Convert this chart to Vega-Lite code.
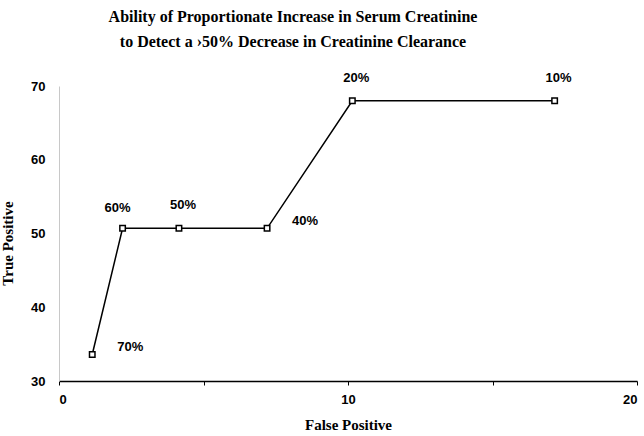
{
  "$schema": "https://vega.github.io/schema/vega-lite/v6.json",
  "width": 578,
  "height": 295,
  "autosize": {"type": "none"},
  "padding": {"left": 59, "top": 86, "right": 7, "bottom": 55},
  "background": "white",
  "title": {
    "text": ["Ability of  Proportionate Increase in Serum Creatinine", "to Detect a \u203a50% Decrease in Creatinine Clearance"],
    "anchor": "middle",
    "align": "center",
    "dx": -55,
    "offset": 22,
    "font": "Liberation Serif",
    "fontSize": 16,
    "fontWeight": "bold",
    "lineHeight": 25,
    "color": "black"
  },
  "config": {
    "view": {"stroke": null},
    "axis": {
      "grid": false,
      "labelFont": "Liberation Sans",
      "labelFontSize": 13,
      "labelFontWeight": "bold",
      "labelColor": "black",
      "titleFont": "Liberation Serif",
      "titleFontSize": 15,
      "titleFontWeight": "bold",
      "titleColor": "black"
    }
  },
  "data": {
    "values": [
      {"fp": 1.15, "tp": 33.6, "label": "70%"},
      {"fp": 2.2, "tp": 50.7, "label": "60%"},
      {"fp": 4.15, "tp": 50.7, "label": "50%"},
      {"fp": 7.2, "tp": 50.7, "label": "40%"},
      {"fp": 10.15, "tp": 68.0, "label": "20%"},
      {"fp": 17.15, "tp": 68.0, "label": "10%"}
    ]
  },
  "encoding": {
    "x": {
      "field": "fp",
      "type": "quantitative",
      "scale": {"domain": [0, 20], "nice": false},
      "axis": {
        "title": "False Positive",
        "values": [0, 5, 10, 15, 20],
        "labelExpr": "datum.value % 10 == 0 ? datum.label : ''",
        "domainColor": "black",
        "domainWidth": 1.5,
        "tickColor": "black",
        "tickSize": 4,
        "labelPadding": 8,
        "titlePadding": 11
      }
    },
    "y": {
      "field": "tp",
      "type": "quantitative",
      "scale": {"domain": [30, 70], "nice": false, "zero": false},
      "axis": {
        "title": "True Positive",
        "titleY": 157,
        "values": [30, 40, 50, 60, 70],
        "domainColor": "#c8c8c8",
        "domainWidth": 1,
        "ticks": false,
        "labelPadding": 14,
        "titlePadding": 15
      }
    }
  },
  "layer": [
    {
      "mark": {"type": "line", "color": "black", "strokeWidth": 1.5}
    },
    {
      "mark": {"type": "point", "shape": "square", "size": 30, "filled": true, "fill": "white", "stroke": "black", "strokeWidth": 1.5, "opacity": 1}
    },
    {
      "transform": [{"filter": "indexof(['70%', '40%'], datum.label) >= 0"}],
      "mark": {"type": "text", "align": "left", "baseline": "middle", "dx": 25, "dy": -7, "font": "Liberation Sans", "fontSize": 13, "fontWeight": "bold", "color": "black"},
      "encoding": {"text": {"field": "label"}}
    },
    {
      "transform": [{"filter": "datum.label == '60%'"}],
      "mark": {"type": "text", "align": "center", "baseline": "middle", "dx": -5, "dy": -20, "font": "Liberation Sans", "fontSize": 13, "fontWeight": "bold", "color": "black"},
      "encoding": {"text": {"field": "label"}}
    },
    {
      "transform": [{"filter": "indexof(['50%', '20%', '10%'], datum.label) >= 0"}],
      "mark": {"type": "text", "align": "center", "baseline": "middle", "dx": 4, "dy": -23, "font": "Liberation Sans", "fontSize": 13, "fontWeight": "bold", "color": "black"},
      "encoding": {"text": {"field": "label"}}
    }
  ]
}
